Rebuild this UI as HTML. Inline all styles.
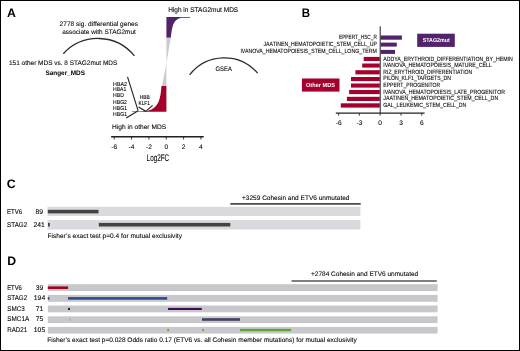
<!DOCTYPE html>
<html><head><meta charset="utf-8"><style>
html,body{margin:0;padding:0;background:#fff;}
body{width:520px;height:351px;overflow:hidden;}
svg{display:block;font-family:"Liberation Sans", sans-serif;will-change:transform;text-rendering:geometricPrecision;}
</style></head><body>
<svg width="520" height="351" viewBox="0 0 520 351">
<rect x="0" y="0" width="520" height="351" fill="#fff"/>
<text x="7" y="16.8" font-size="12.3" font-weight="bold" fill="#000">A</text>
<text x="301.7" y="17" font-size="12.3" font-weight="bold" fill="#000" textLength="8.30" lengthAdjust="spacingAndGlyphs">B</text>
<text x="6.8" y="187.8" font-size="12.3" font-weight="bold" fill="#000">C</text>
<text x="7.2" y="265" font-size="12.3" font-weight="bold" fill="#000">D</text>
<text x="59.6" y="25.8" font-size="6.6" stroke="#231f20" stroke-width="0.1" textLength="78.40" lengthAdjust="spacingAndGlyphs">2778 sig. differential genes</text>
<text x="62.2" y="33.8" font-size="6.6" stroke="#231f20" stroke-width="0.1" textLength="73.60" lengthAdjust="spacingAndGlyphs">associate with STAG2mut</text>
<text x="9.0" y="64.8" font-size="6.6" stroke="#231f20" stroke-width="0.1" textLength="108.30" lengthAdjust="spacingAndGlyphs">151 other MDS vs. 8 STAG2mut MDS</text>
<text x="45.4" y="74.5" font-size="6.6" font-weight="bold" textLength="39.60" lengthAdjust="spacingAndGlyphs">Sanger_MDS</text>
<text x="168.2" y="12.45" font-size="6.8" stroke="#231f20" stroke-width="0.1" textLength="70.00" lengthAdjust="spacingAndGlyphs">High in STAG2mut MDS</text>
<text x="112" y="129.4" font-size="6.6" stroke="#231f20" stroke-width="0.1" textLength="54.10" lengthAdjust="spacingAndGlyphs">High in other MDS</text>
<text x="113.1" y="85.7" font-size="5.6" stroke="#231f20" stroke-width="0.1" textLength="13.90" lengthAdjust="spacingAndGlyphs">HBA2</text>
<text x="113.1" y="91.2" font-size="5.6" stroke="#231f20" stroke-width="0.1" textLength="13.20" lengthAdjust="spacingAndGlyphs">HBA1</text>
<text x="113.1" y="97.1" font-size="5.6" stroke="#231f20" stroke-width="0.1" textLength="10.90" lengthAdjust="spacingAndGlyphs">HBD</text>
<text x="113.1" y="103.6" font-size="5.6" stroke="#231f20" stroke-width="0.1" textLength="13.80" lengthAdjust="spacingAndGlyphs">HBG2</text>
<text x="113.1" y="109.7" font-size="5.6" stroke="#231f20" stroke-width="0.1" textLength="13.90" lengthAdjust="spacingAndGlyphs">HBG1</text>
<text x="113.1" y="115.8" font-size="5.6" stroke="#231f20" stroke-width="0.1" textLength="13.90" lengthAdjust="spacingAndGlyphs">HBG1</text>
<text x="139.7" y="98.9" font-size="5.6" stroke="#231f20" stroke-width="0.1" textLength="10.20" lengthAdjust="spacingAndGlyphs">HBB</text>
<text x="138.5" y="105.0" font-size="5.6" stroke="#231f20" stroke-width="0.1" textLength="11.40" lengthAdjust="spacingAndGlyphs">KLF1</text>
<path d="M63.3,53.8 A46.8,46.8 0 0 1 134.4,55.9" fill="none" stroke="#2b2b2b" stroke-width="1.3"/>
<path d="M189.6,74.8 A43.8,43.8 0 0 1 257.6,73.2" fill="none" stroke="#2b2b2b" stroke-width="1.3"/>
<text x="215.5" y="70.8" font-size="6.6" stroke="#231f20" stroke-width="0.1" textLength="16.40" lengthAdjust="spacingAndGlyphs">GSEA</text>
<line x1="127.5" y1="76.9" x2="138.1" y2="110.7" stroke="#231f20" stroke-width="1.1"/>
<line x1="126.2" y1="118" x2="138.1" y2="110.8" stroke="#231f20" stroke-width="1.1"/>
<polyline points="138.5,107 145.8,111.3 152.6,105.4" fill="none" stroke="#231f20" stroke-width="1.1"/>
<path d="M166.4,16.9 L190,16.9 L190,17.65 L181,17.65 C177,18.6 174.5,21 173.2,24.5 C172,28 171.2,33 170.8,37.8 L166.4,37.8 Z" fill="#52226b" stroke="none" stroke-width="1"/>
<path d="M166.4,37.8 L170.8,37.8 L166.4,63.2 Z" fill="#cccbd0" stroke="none" stroke-width="1"/>
<path d="M166.4,63.2 L162.0,86.2 L166.4,86.2 Z" fill="#cccbd0" stroke="none" stroke-width="1"/>
<path d="M166.4,86 L161.5,86 C161,92 160.5,97 158.5,102 C156.5,106.5 153,109.5 148,110.8 C143,111.3 138,111.3 132,111.3 L132,111.7 L166.4,111.7 Z" fill="#a5002d" stroke="none" stroke-width="1"/>
<line x1="111.1" y1="136.8" x2="203.7" y2="136.8" stroke="#231f20" stroke-width="1.5"/>
<line x1="114.2" y1="136.8" x2="114.2" y2="139.5" stroke="#231f20" stroke-width="0.9"/>
<text x="114.2" y="148.5" font-size="6.6" stroke="#231f20" stroke-width="0.1" text-anchor="middle">-6</text>
<line x1="131.55" y1="136.8" x2="131.55" y2="139.5" stroke="#231f20" stroke-width="0.9"/>
<text x="131.55" y="148.5" font-size="6.6" stroke="#231f20" stroke-width="0.1" text-anchor="middle">-4</text>
<line x1="148.9" y1="136.8" x2="148.9" y2="139.5" stroke="#231f20" stroke-width="0.9"/>
<text x="148.9" y="148.5" font-size="6.6" stroke="#231f20" stroke-width="0.1" text-anchor="middle">-2</text>
<line x1="166.25" y1="136.8" x2="166.25" y2="139.5" stroke="#231f20" stroke-width="0.9"/>
<text x="166.25" y="148.5" font-size="6.6" stroke="#231f20" stroke-width="0.1" text-anchor="middle">0</text>
<line x1="183.60000000000002" y1="136.8" x2="183.60000000000002" y2="139.5" stroke="#231f20" stroke-width="0.9"/>
<text x="183.60000000000002" y="148.5" font-size="6.6" stroke="#231f20" stroke-width="0.1" text-anchor="middle">2</text>
<line x1="200.95" y1="136.8" x2="200.95" y2="139.5" stroke="#231f20" stroke-width="0.9"/>
<text x="200.95" y="148.5" font-size="6.6" stroke="#231f20" stroke-width="0.1" text-anchor="middle">4</text>
<text x="146.6" y="160.8" font-size="9.6" stroke="#231f20" stroke-width="0.1" textLength="22.60" lengthAdjust="spacingAndGlyphs">Log2FC</text>
<line x1="380.2" y1="26.3" x2="380.2" y2="113.3" stroke="#231f20" stroke-width="1"/>
<line x1="335.8" y1="113.1" x2="424.6" y2="113.1" stroke="#231f20" stroke-width="1.4"/>
<line x1="338.7" y1="113.3" x2="338.7" y2="115.6" stroke="#231f20" stroke-width="0.9"/>
<text x="338.7" y="125.2" font-size="6.6" stroke="#231f20" stroke-width="0.1" text-anchor="middle">-6</text>
<line x1="359.4" y1="113.3" x2="359.4" y2="115.6" stroke="#231f20" stroke-width="0.9"/>
<text x="359.4" y="125.2" font-size="6.6" stroke="#231f20" stroke-width="0.1" text-anchor="middle">-3</text>
<line x1="380.1" y1="113.3" x2="380.1" y2="115.6" stroke="#231f20" stroke-width="0.9"/>
<text x="380.1" y="125.2" font-size="6.6" stroke="#231f20" stroke-width="0.1" text-anchor="middle">0</text>
<line x1="401.0" y1="113.3" x2="401.0" y2="115.6" stroke="#231f20" stroke-width="0.9"/>
<text x="401.0" y="125.2" font-size="6.6" stroke="#231f20" stroke-width="0.1" text-anchor="middle">3</text>
<line x1="421.8" y1="113.3" x2="421.8" y2="115.6" stroke="#231f20" stroke-width="0.9"/>
<text x="421.8" y="125.2" font-size="6.6" stroke="#231f20" stroke-width="0.1" text-anchor="middle">6</text>
<rect x="380.59999999999997" y="35.5" width="21.30" height="4.20" fill="#52226b"/>
<rect x="380.59999999999997" y="42.6" width="16.20" height="4.00" fill="#52226b"/>
<rect x="380.59999999999997" y="49.9" width="14.40" height="4.00" fill="#52226b"/>
<rect x="363.7" y="56.9" width="16.10" height="4.10" fill="#a5002d"/>
<rect x="362.2" y="63.5" width="17.60" height="4.10" fill="#a5002d"/>
<rect x="355.4" y="70.2" width="24.40" height="4.20" fill="#a5002d"/>
<rect x="351" y="77.0" width="28.80" height="4.10" fill="#a5002d"/>
<rect x="351" y="83.5" width="28.80" height="4.10" fill="#a5002d"/>
<rect x="349.1" y="90.0" width="30.70" height="4.10" fill="#a5002d"/>
<rect x="346.9" y="96.8" width="32.90" height="4.20" fill="#a5002d"/>
<rect x="340.8" y="103.3" width="39.00" height="4.30" fill="#a5002d"/>
<text x="376.9" y="39.3" font-size="6.1" stroke="#231f20" stroke-width="0.1" text-anchor="end" textLength="37.90" lengthAdjust="spacingAndGlyphs">EPPERT_HSC_R</text>
<text x="376.9" y="46.45" font-size="6.1" stroke="#231f20" stroke-width="0.1" text-anchor="end" textLength="113.40" lengthAdjust="spacingAndGlyphs">JAATINEN_HEMATOPOIETIC_STEM_CELL_UP</text>
<text x="376.9" y="53.4" font-size="6.1" stroke="#231f20" stroke-width="0.1" text-anchor="end" textLength="136.50" lengthAdjust="spacingAndGlyphs">IVANOVA_HEMATOPOIESIS_STEM_CELL_LONG_TERM</text>
<text x="383.3" y="60.9" font-size="6.1" stroke="#231f20" stroke-width="0.1" textLength="129.40" lengthAdjust="spacingAndGlyphs">ADDYA_ERYTHROID_DIFFERENTIATION_BY_HEMIN</text>
<text x="383.3" y="67.3" font-size="6.1" stroke="#231f20" stroke-width="0.1" textLength="108.40" lengthAdjust="spacingAndGlyphs">IVANOVA_HEMATOPOIESIS_MATURE_CELL</text>
<text x="383.3" y="73.9" font-size="6.1" stroke="#231f20" stroke-width="0.1" textLength="88.90" lengthAdjust="spacingAndGlyphs">RIZ_ERYTHROID_DIFFERENTIATION</text>
<text x="383.3" y="80.4" font-size="6.1" stroke="#231f20" stroke-width="0.1" textLength="67.70" lengthAdjust="spacingAndGlyphs">PILON_KLF1_TARGETS_DN</text>
<text x="383.3" y="87.0" font-size="6.1" stroke="#231f20" stroke-width="0.1" textLength="56.90" lengthAdjust="spacingAndGlyphs">EPPERT_PROGENITOR</text>
<text x="383.3" y="93.6" font-size="6.1" stroke="#231f20" stroke-width="0.1" textLength="121.70" lengthAdjust="spacingAndGlyphs">IVANOVA_HEMATOPOIESIS_LATE_PROGENITOR</text>
<text x="383.3" y="100.3" font-size="6.1" stroke="#231f20" stroke-width="0.1" textLength="114.90" lengthAdjust="spacingAndGlyphs">JAATINEN_HEMATOPOIETIC_STEM_CELL_DN</text>
<text x="383.3" y="106.8" font-size="6.1" stroke="#231f20" stroke-width="0.1" textLength="83.00" lengthAdjust="spacingAndGlyphs">GAL_LEUKEMIC_STEM_CELL_DN</text>
<rect x="301.9" y="78.5" width="37.60" height="13.10" fill="#a5002d"/>
<text x="306" y="87.1" font-size="5.9" font-weight="bold" fill="#fff" textLength="28.90" lengthAdjust="spacingAndGlyphs">Other MDS</text>
<rect x="417.2" y="33.7" width="37.60" height="13.20" fill="#52226b"/>
<text x="422.7" y="42.1" font-size="5.9" font-weight="bold" fill="#fff" textLength="27.10" lengthAdjust="spacingAndGlyphs">STAG2mut</text>
<text x="242.0" y="199.5" font-size="6.6" stroke="#231f20" stroke-width="0.1" textLength="107.50" lengthAdjust="spacingAndGlyphs">+3259 Cohesin and ETV6 unmutated</text>
<line x1="230.3" y1="203.85" x2="360.7" y2="203.85" stroke="#4a4a4a" stroke-width="1.6"/>
<text x="7.1" y="213.7" font-size="6.8" stroke="#231f20" stroke-width="0.1" textLength="15.00" lengthAdjust="spacingAndGlyphs">ETV6</text>
<text x="39.3" y="213.7" font-size="6.8" stroke="#231f20" stroke-width="0.1" text-anchor="middle">89</text>
<text x="7.1" y="226.6" font-size="6.8" stroke="#231f20" stroke-width="0.1" textLength="20.10" lengthAdjust="spacingAndGlyphs">STAG2</text>
<text x="39.2" y="226.6" font-size="6.8" stroke="#231f20" stroke-width="0.1" text-anchor="middle">241</text>
<rect x="47.5" y="206.8" width="312.90" height="9.20" fill="#dad9dd"/>
<rect x="47.5" y="220.0" width="312.90" height="9.50" fill="#dad9dd"/>
<rect x="47.8" y="209.8" width="50.70" height="3.60" fill="#434343"/>
<rect x="48.0" y="222.9" width="1.80" height="3.60" fill="#434343"/>
<rect x="98.8" y="222.9" width="131.50" height="3.60" fill="#434343"/>
<text x="47.6" y="237.8" font-size="6.6" stroke="#231f20" stroke-width="0.1" textLength="134.40" lengthAdjust="spacingAndGlyphs">Fisher’s exact test p=0.4 for mutual exclusivity</text>
<text x="311.0" y="276.3" font-size="6.6" stroke="#231f20" stroke-width="0.1" textLength="107.20" lengthAdjust="spacingAndGlyphs">+2784 Cohesin and ETV6 unmutated</text>
<line x1="291.5" y1="280.9" x2="436.8" y2="280.9" stroke="#555" stroke-width="1.5"/>
<text x="7.2" y="289.9" font-size="6.8" stroke="#231f20" stroke-width="0.1" textLength="14.70" lengthAdjust="spacingAndGlyphs">ETV6</text>
<text x="39.5" y="289.9" font-size="6.8" stroke="#231f20" stroke-width="0.1" text-anchor="middle">39</text>
<text x="7.2" y="300.4" font-size="6.8" stroke="#231f20" stroke-width="0.1" textLength="20.00" lengthAdjust="spacingAndGlyphs">STAG2</text>
<text x="39.5" y="300.4" font-size="6.8" stroke="#231f20" stroke-width="0.1" text-anchor="middle">194</text>
<text x="7.2" y="310.8" font-size="6.8" stroke="#231f20" stroke-width="0.1" textLength="17.60" lengthAdjust="spacingAndGlyphs">SMC3</text>
<text x="39.5" y="310.8" font-size="6.8" stroke="#231f20" stroke-width="0.1" text-anchor="middle">71</text>
<text x="7.2" y="321.2" font-size="6.8" stroke="#231f20" stroke-width="0.1" textLength="22.00" lengthAdjust="spacingAndGlyphs">SMC1A</text>
<text x="39.5" y="321.2" font-size="6.8" stroke="#231f20" stroke-width="0.1" text-anchor="middle">75</text>
<text x="7.2" y="331.6" font-size="6.8" stroke="#231f20" stroke-width="0.1" textLength="20.00" lengthAdjust="spacingAndGlyphs">RAD21</text>
<text x="39.5" y="331.6" font-size="6.8" stroke="#231f20" stroke-width="0.1" text-anchor="middle">105</text>
<rect x="47.9" y="284.2" width="389.70" height="6.80" fill="#c8c7cc"/>
<rect x="47.9" y="294.9" width="389.70" height="6.90" fill="#c8c7cc"/>
<rect x="47.9" y="305.5" width="389.70" height="6.80" fill="#c8c7cc"/>
<rect x="47.9" y="316.3" width="389.70" height="6.70" fill="#c8c7cc"/>
<rect x="47.9" y="326.9" width="389.70" height="6.70" fill="#c8c7cc"/>
<rect x="47.8" y="286.4" width="20.30" height="2.60" fill="#a6001e"/>
<rect x="47.8" y="297.1" width="1.60" height="2.60" fill="#2e4a8a"/>
<rect x="68.0" y="297.1" width="99.20" height="2.60" fill="#2e4a8a"/>
<rect x="68.0" y="307.9" width="2.00" height="2.10" fill="#430c5b"/>
<rect x="168.0" y="307.9" width="33.80" height="2.10" fill="#430c5b"/>
<rect x="69.7" y="318.4" width="0.90" height="2.20" fill="#9a9aa8"/>
<rect x="202.0" y="318.2" width="38.00" height="2.60" fill="#3d4459"/>
<rect x="167.3" y="329.0" width="1.70" height="2.20" fill="#5aa832"/>
<rect x="202.3" y="329.0" width="1.70" height="2.20" fill="#5aa832"/>
<rect x="240.0" y="328.9" width="51.10" height="2.30" fill="#58a82e"/>
<text x="47.3" y="341.8" font-size="6.6" stroke="#231f20" stroke-width="0.1" textLength="309.40" lengthAdjust="spacingAndGlyphs">Fisher’s exact test p=0.028 Odds ratio 0.17 (ETV6 vs. all Cohesin member mutations) for mutual exclusivity</text>
<rect x="0.5" y="0.5" width="519" height="350" fill="none" stroke="#000" stroke-width="1"/>
</svg>
</body></html>
